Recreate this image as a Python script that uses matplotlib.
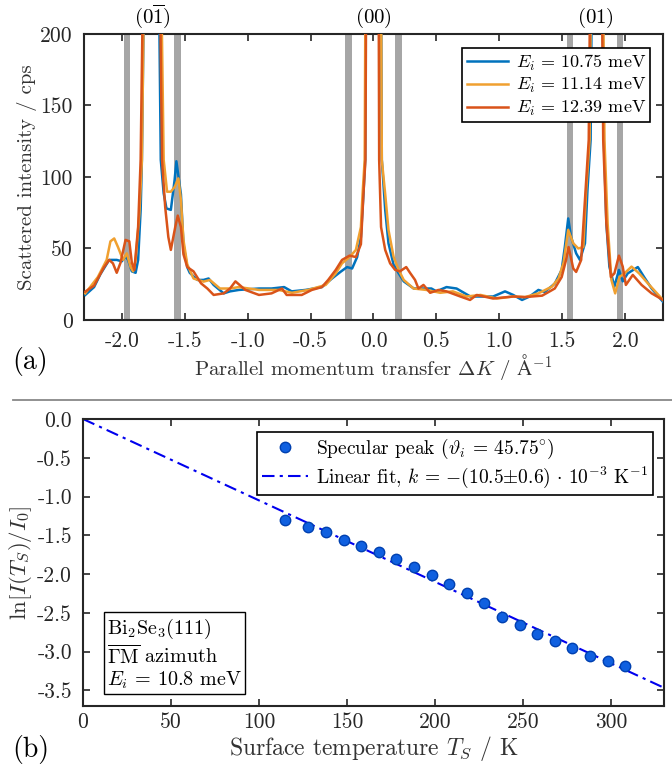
import numpy as np
import matplotlib
matplotlib.use("Agg")
import matplotlib.pyplot as plt
from matplotlib.ticker import FormatStrFormatter, MultipleLocator

plt.rcParams['font.family'] = 'serif'
plt.rcParams['font.serif'] = ['cmr10']
plt.rcParams['mathtext.fontset'] = 'cm'
plt.rcParams['axes.unicode_minus'] = False
plt.rcParams['axes.formatter.use_mathtext'] = True

## ------------------------------------------------------------------
## DATA  (K in 1/A, intensity in cps)
## ------------------------------------------------------------------
blue_pts = [(-2.29, 17.5), (-2.22, 23), (-2.17, 32), (-2.10, 42), (-2.04, 42), (-2.00, 41),
            (-1.97, 44.5), (-1.95, 42), (-1.92, 34), (-1.89, 33), (-1.87, 42), (-1.85, 77),
            (-1.84, 112), (-1.76, 700), (-1.69, 112), (-1.667, 88.6), (-1.645, 78), (-1.61, 77),
            (-1.58, 98), (-1.566, 111), (-1.53, 88), (-1.51, 53), (-1.48, 37), (-1.46, 33),
            (-1.40, 28), (-1.35, 28), (-1.31, 29), (-1.27, 24.5), (-1.19, 18.6), (-1.14, 20),
            (-1.07, 21), (-0.91, 22), (-0.81, 22), (-0.71, 23), (-0.65, 20), (-0.54, 21),
            (-0.41, 23), (-0.33, 29), (-0.26, 33.8), (-0.21, 37), (-0.17, 36), (-0.13, 44),
            (-0.10, 58), (-0.08, 88), (-0.066, 112), (0.0, 1500), (0.066, 112), (0.093, 77),
            (0.119, 53.6), (0.16, 38.5), (0.20, 32.6), (0.24, 27), (0.32, 22), (0.40, 22),
            (0.46, 22), (0.50, 20), (0.58, 23), (0.66, 22), (0.77, 16.4), (0.87, 16.4),
            (0.95, 16.4), (1.045, 20), (1.11, 17.5), (1.18, 14), (1.24, 16.4), (1.31, 21),
            (1.36, 19.6), (1.44, 25.4), (1.495, 35), (1.52, 51), (1.547, 71), (1.57, 58),
            (1.61, 46.6), (1.64, 42), (1.68, 53.6), (1.70, 91), (1.725, 126), (1.775, 700),
            (1.83, 126), (1.85, 67.6), (1.874, 37.3), (1.914, 23.3), (1.95, 35), (1.98, 27),
            (2.02, 32.6), (2.10, 37), (2.15, 30), (2.21, 22), (2.30, 12.7)]

orange_pts = [(-2.29, 18.6), (-2.19, 30), (-2.12, 42), (-2.09, 55), (-2.06, 57), (-2.03, 51),
              (-1.99, 42), (-1.96, 46.6), (-1.93, 37), (-1.91, 34), (-1.89, 42), (-1.86, 74),
              (-1.84, 112), (-1.76, 700), (-1.667, 112), (-1.64, 89.7), (-1.61, 89.7), (-1.58, 93),
              (-1.55, 99), (-1.53, 84), (-1.51, 56), (-1.48, 39), (-1.43, 29), (-1.35, 26.8),
              (-1.30, 28), (-1.22, 22), (-1.14, 22), (-1.07, 23), (-0.91, 21), (-0.755, 21),
              (-0.648, 19), (-0.52, 21), (-0.38, 24.5), (-0.30, 32.6), (-0.25, 39.6), (-0.19, 44),
              (-0.14, 49), (-0.10, 65), (-0.087, 88), (-0.07, 112), (0.0, 1500), (0.066, 112),
              (0.093, 88), (0.119, 63), (0.16, 44), (0.20, 35), (0.24, 28), (0.318, 22),
              (0.42, 21), (0.53, 19), (0.63, 20), (0.74, 16.4), (0.85, 17.5), (0.98, 15),
              (1.11, 16.4), (1.204, 16), (1.31, 18.6), (1.417, 23.3), (1.47, 29), (1.51, 40),
              (1.547, 63), (1.587, 53.6), (1.627, 50), (1.667, 51), (1.69, 91), (1.717, 126),
              (1.775, 700), (1.835, 126), (1.86, 67.6), (1.89, 28), (1.92, 18.6), (1.954, 30),
              (1.994, 32.6), (2.05, 37.3), (2.11, 32.6), (2.18, 25.6), (2.30, 14)]

red_pts = [(-2.29, 19.8), (-2.22, 24), (-2.14, 37), (-2.10, 42), (-2.07, 39.6), (-2.04, 33),
           (-2.01, 40), (-1.97, 56), (-1.94, 55), (-1.92, 40), (-1.90, 35), (-1.87, 65),
           (-1.85, 112), (-1.76, 700), (-1.68, 112), (-1.655, 79), (-1.63, 58), (-1.61, 49),
           (-1.575, 65), (-1.555, 73), (-1.53, 65), (-1.51, 46), (-1.48, 37), (-1.43, 34),
           (-1.37, 25.6), (-1.32, 22), (-1.27, 17.5), (-1.19, 18.6), (-1.14, 22), (-1.097, 27),
           (-1.018, 21), (-0.91, 17.5), (-0.81, 18.6), (-0.727, 22), (-0.69, 17.5), (-0.57, 17.5),
           (-0.49, 21), (-0.41, 23), (-0.36, 28), (-0.30, 35), (-0.25, 42), (-0.19, 45),
           (-0.14, 44), (-0.10, 53), (-0.08, 88), (-0.064, 112), (0.0, 1500), (0.045, 112),
           (0.06, 65), (0.093, 49), (0.132, 39.6), (0.172, 35), (0.21, 34), (0.26, 37),
           (0.29, 33), (0.33, 28), (0.357, 22), (0.397, 24.5), (0.45, 19), (0.516, 21),
           (0.58, 20), (0.69, 16.4), (0.767, 14), (0.82, 17.5), (0.95, 15), (1.11, 16.4),
           (1.204, 16), (1.34, 17), (1.44, 22), (1.495, 30), (1.53, 42), (1.55, 51),
           (1.587, 36), (1.61, 33.6), (1.65, 42), (1.685, 91), (1.71, 126), (1.77, 700),
           (1.825, 126), (1.85, 67.6), (1.886, 30), (1.914, 32.6), (1.95, 45), (1.98, 37.3),
           (2.005, 24.5), (2.06, 31.5), (2.13, 24.5), (2.21, 18.6), (2.30, 14)]

energies = ['10.75', '11.14', '12.39']
line_colors = ['#0072BD', '#F0A030', '#D95319']

band_centers = [-1.957, -1.556, -0.198, 0.198, 1.559, 1.960]
band_width = 0.05

peak_pos = [-1.756, 0.0, 1.76]
peak_names = [r'$(0\overline{1})$', r'$(00)$', r'$(01)$']

## temperature series
temps = [115, 128, 138, 148, 158, 168, 178, 188, 198, 208,
         218, 228, 238, 248, 258, 268, 278, 288, 298, 308]
ln_ratio = [-1.30, -1.39, -1.46, -1.56, -1.64, -1.72, -1.80, -1.91, -2.01, -2.13,
            -2.24, -2.37, -2.55, -2.65, -2.77, -2.86, -2.95, -3.06, -3.12, -3.18]
ln_err = [0.05] * len(temps)
k_fit = -10.5e-3
fit_T = [0, 330]

##---------------------------------------------------------------------
## FIGURE
##---------------------------------------------------------------------
fig = plt.figure(figsize=(6.72, 7.64), dpi=100)
ax1 = fig.add_axes([0.125, 0.5812, 0.8616, 0.3743])
ax2 = fig.add_axes([0.1235, 0.0759, 0.8646, 0.3757])

spine_col = '#262626'
lab_col = '#333333'

## TOP PANEL
for c in band_centers:
    ax1.axvspan(c - band_width / 2, c + band_width / 2, color='#a6a6a6', lw=0, zorder=1)

for pts, e, col in zip([blue_pts, orange_pts, red_pts], energies, line_colors):
    k, inten = np.array(pts).T
    ax1.plot(k, inten, color=col, lw=1.8, zorder=3, label=r'$E_i$ = ' + e + ' meV')

for p, name in zip(peak_pos, peak_names):
    ax1.text(p, 203, name, ha='center', va='bottom', fontsize=15)

ax1.set_xlim(-2.3, 2.3)
ax1.set_ylim(0, 200)
ax1.xaxis.set_major_locator(MultipleLocator(0.5))
ax1.yaxis.set_major_locator(MultipleLocator(50))
ax1.xaxis.set_major_formatter(FormatStrFormatter('%.1f'))
ax1.yaxis.set_major_formatter(FormatStrFormatter('%d'))
ax1.set_xlabel(r'Parallel momentum transfer $\Delta K$ / $\mathrm{\AA}^{-1}$', fontsize=15,
               color=lab_col, labelpad=1)
ax1.set_ylabel('Scattered intensity / cps', fontsize=15, color=lab_col, labelpad=2)
leg1 = ax1.legend(loc='upper right', bbox_to_anchor=(0.978, 0.951), fontsize=13,
                  fancybox=False, edgecolor='black', framealpha=1, handlelength=2.3,
                  borderpad=0.25, labelspacing=0.2, handletextpad=0.4, borderaxespad=0)
leg1.get_frame().set_linewidth(1.2)

## BOTTOM PANEL
fit_line, = ax2.plot(fit_T, [k_fit * t for t in fit_T], color='#0000ee',
                     ls=(0, (6, 2.5, 1.5, 2.5)), lw=1.5, zorder=2)
ax2.errorbar(temps, ln_ratio, yerr=ln_err, fmt='none', ecolor='#0040B0',
             elinewidth=1.2, capsize=0, zorder=3)
pts_line, = ax2.plot(temps, ln_ratio, 'o', color='#1060E0', mec='#0040B0',
                     ms=7.5, mew=1, zorder=4)

ax2.set_xlim(0, 330)
ax2.set_ylim(-3.7, 0)
ax2.xaxis.set_major_locator(MultipleLocator(50))
ax2.yaxis.set_major_locator(MultipleLocator(0.5))
ax2.xaxis.set_major_formatter(FormatStrFormatter('%d'))
ax2.yaxis.set_major_formatter(FormatStrFormatter('%.1f'))
ax2.set_xlabel(r'Surface temperature $T_S$ / K', fontsize=17, color=lab_col, labelpad=1)
ax2.set_ylabel(r'$\ln[I(T_S)/I_0]$', fontsize=16.5, color=lab_col, labelpad=2)

leg2 = ax2.legend([pts_line, fit_line],
                  [r'Specular peak ($\vartheta_i$ = 45.75$^{\circ}$)',
                   r'Linear fit, $k$ = $-$(10.5$\pm$0.6)$\,\cdot\,$10$^{-3}$ K$^{-1}$'],
                  loc='upper right', bbox_to_anchor=(0.981, 0.955),
                  fontsize=14, fancybox=False, edgecolor='black', framealpha=1,
                  handlelength=2.4, borderpad=0.25, labelspacing=0.2, handletextpad=0.4,
                  borderaxespad=0)
leg2.get_frame().set_linewidth(1.2)

ax2.text(0.042, 0.052,
         r'$\mathrm{Bi_2Se_3(111)}$' + '\n' + r'$\overline{\Gamma\mathrm{M}}$ azimuth' + '\n' + r'$E_i$ = 10.8 meV',
         transform=ax2.transAxes, ha='left', va='bottom', fontsize=14.5, linespacing=1.15,
         bbox=dict(boxstyle='square,pad=0.15', fc='white', ec='black', lw=1))

## shared styling
for ax in (ax1, ax2):
    ax.tick_params(axis='both', which='major', direction='in', length=5, width=1.2,
                   top=True, right=True, labelsize=15.5, colors=spine_col, pad=8)
    for sp in ax.spines.values():
        sp.set_linewidth(1.5)
        sp.set_color(spine_col)
ax2.tick_params(axis='x', pad=5)

## panel letters and separator
fig.text(0.018, 1 - 362 / 764, '(a)', fontsize=20, va='center', ha='left')
fig.text(0.018, 1 - 750 / 764, '(b)', fontsize=20, va='center', ha='left')
fig.add_artist(plt.Line2D([0.02, 1.0], [1 - 400 / 764, 1 - 400 / 764], color='#888888', lw=1.3))

fig.savefig('out.png', dpi=100)
